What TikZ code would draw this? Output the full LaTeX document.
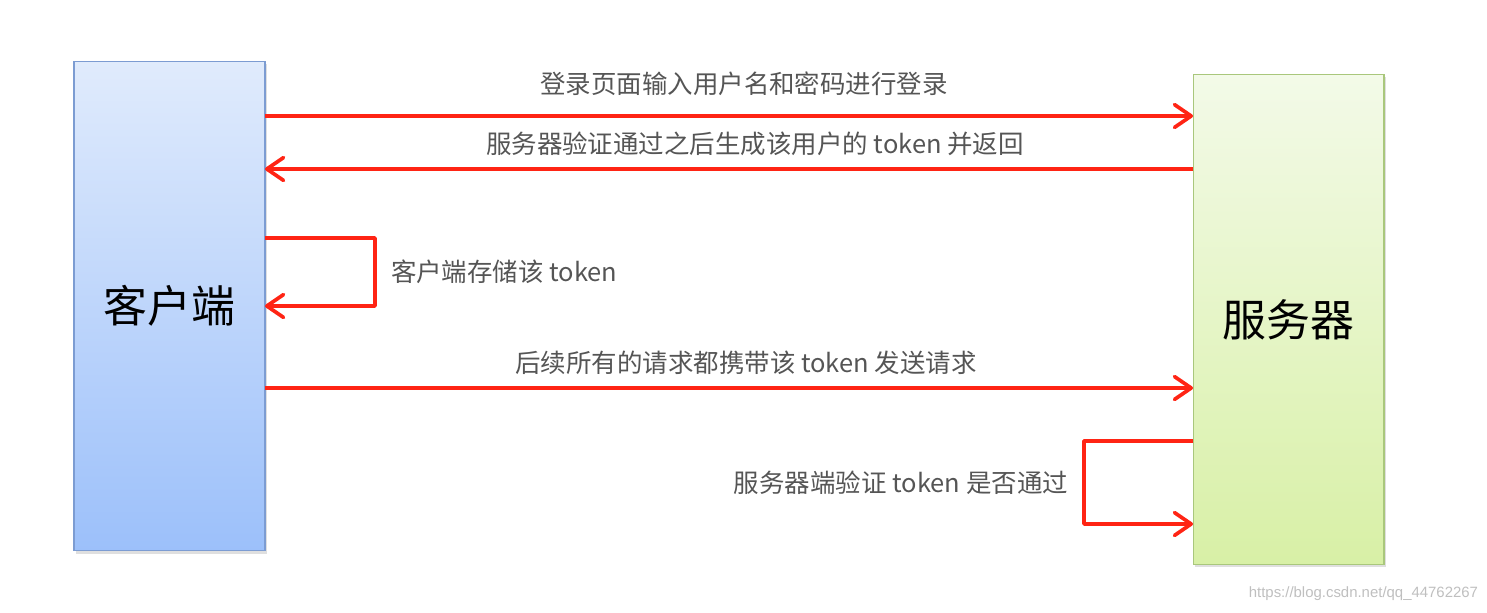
\documentclass[tikz,border=0pt]{standalone}
\usepackage{fontspec}
\setmainfont{Noto Sans CJK SC}
\newfontfamily\wmfont{Liberation Sans}
\usetikzlibrary{arrows.meta,shadows}
\definecolor{flowred}{HTML}{FF2414}
\definecolor{msggray}{HTML}{555555}
\definecolor{clienttop}{HTML}{E0EBFC}
\definecolor{clientbot}{HTML}{9CC0FA}
\definecolor{clientline}{HTML}{7C9CD2}
\definecolor{servertop}{HTML}{F3FAE8}
\definecolor{serverbot}{HTML}{D8F0A6}
\definecolor{serverline}{HTML}{A9C77C}
\begin{document}
\begin{tikzpicture}[x=0.02cm,y=-0.02cm,inner sep=0pt,outer sep=0pt,
party/.style={draw,rectangle,minimum width=3.82cm,minimum height=9.8cm,line width=0.6pt,
  font=\fontsize{25}{29}\selectfont,drop shadow={opacity=0.25,shadow xshift=1.2pt,shadow yshift=-1.5pt}},
flow/.style={draw=flowred,line width=2.1pt,line join=round,-{Straight Barb[length=9.5pt,width=13pt,line join=round,line cap=round]}},
msg/.style={text=msggray,font=\fontsize{14.5}{17}\selectfont}]
\useasboundingbox (0,0) rectangle (1487,612);
\node[party,top color=clienttop,bottom color=clientbot,draw=clientline] (client) at (169.5,306) {客户端};
\node[party,top color=servertop,bottom color=serverbot,draw=serverline] (server) at (1288.5,319.5) {服务器};
% login
\draw[flow] (client.east |- 0,116) -- (server.west |- 0,116);
\node[msg] (login) at (744,84) {登录页面输入用户名和密码进行登录};
% token back
\draw[flow] (server.west |- 0,169) -- (client.east |- 0,169);
\node[msg] (issue) at (755,144) {服务器验证通过之后生成该用户的 token 并返回};
% client keeps token
\draw[flow] (client.east |- 0,238) -- ++(110,0) -- ++(0,68) -- (client.east |- 0,306);
\node[msg,anchor=west] (store) at (391,272) {客户端存储该 token};
% later requests
\draw[flow] (client.east |- 0,388) -- (server.west |- 0,388);
\node[msg] (request) at (746,363) {后续所有的请求都携带该 token 发送请求};
% server checks token
\draw[flow] (server.west |- 0,441) -- ++(-109,0) -- ++(0,83) -- (server.west |- 0,524);
\node[msg,anchor=east] (check) at (1068,483) {服务器端验证 token 是否通过};
\node[anchor=east,text=black!25,font=\wmfont\fontsize{8.5}{10}\selectfont] (mark) at (1478,594) {https://blog.csdn.net/qq\_44762267};
\end{tikzpicture}
\end{document}
